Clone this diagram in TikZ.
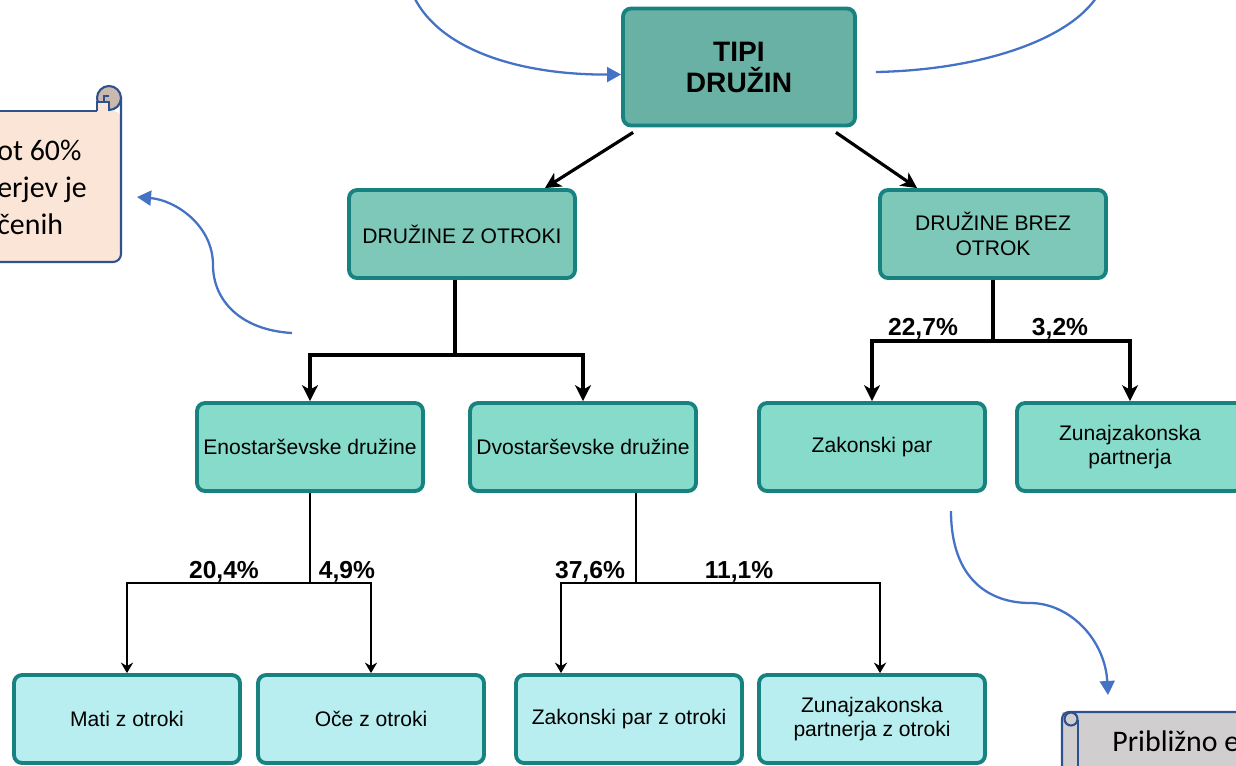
\documentclass[tikz,border=0pt]{standalone}
\usepackage{fontspec}
\setmainfont{Liberation Sans}
\newfontfamily\notefont{Carlito}
\usetikzlibrary{arrows.meta}

\definecolor{tealborder}{HTML}{17827F}
\definecolor{lvltop}{HTML}{6AB1A5}
\definecolor{lvltwo}{HTML}{7DC8B9}
\definecolor{lvlthree}{HTML}{87DBCB}
\definecolor{lvlfour}{HTML}{B9EEF0}
\definecolor{curveblue}{HTML}{4472C4}
\definecolor{scrollblue}{HTML}{2F528F}
\definecolor{peach}{HTML}{FBE5D6}
\definecolor{curl}{HTML}{C9B9AE}
\definecolor{greyfill}{HTML}{D0CECE}

\begin{document}
\begin{tikzpicture}[x=0.02cm,y=-0.02cm,
    box/.style={draw=tealborder,line width=2.2pt,rounded corners=0.16cm,
      minimum width=4.52cm,minimum height=1.76cm,align=center,inner sep=2pt,
      font=\fontsize{12}{13.9}\selectfont},
    pct/.style={anchor=base,inner sep=0pt,font=\bfseries\fontsize{14}{16}\selectfont},
    note/.style={anchor=base west,inner sep=0pt,font=\notefont\fontsize{17}{21}\selectfont},
    thickline/.style={line width=1.8pt},
    thickarrow/.style={line width=1.8pt,-{Stealth[length=9pt,width=9pt,inset=2.5pt]}},
    thinline/.style={line width=0.8pt},
    thinarrow/.style={line width=0.8pt,-{Stealth[length=6pt,width=7pt,inset=2pt]}},
    blueline/.style={curveblue,line width=1.3pt},
    bluearrow/.style={curveblue,line width=1.3pt,-{Triangle[length=8pt,width=8.5pt]}},
    scrollline/.style={draw=scrollblue,line width=1.2pt}]
\clip (0,0) rectangle (1236,765);

% scrolls
\fill[peach,rounded corners=0.16cm] (-10,111) rectangle (121,262);
\draw[scrollline] (-10,111) -- (97,111);
\draw[scrollline,rounded corners=0.16cm] (121,97) -- (121,262) -- (-10,262);
\filldraw[scrollline,fill=curl] (109,98) circle (0.24cm);
\filldraw[scrollline,fill=peach] (97,111) -- (97,102) -- (109,102) -- (109,111);
\draw[scrollline] (104,102) -- (104,96) -- (109,96);
\node[note] (n1) at (-3,160) {ot 60\%};
\node[note] (n2) at (-3,197) {erjev je};
\node[note] (n3) at (-3,234) {čenih};

\fill[greyfill] (1062,712) rectangle (1250,780);
\draw[scrollline,rounded corners=0.14cm] (1062,780) -- (1062,712) -- (1250,712);
\draw[scrollline] (1078,720) -- (1078,780);
\draw[scrollline] (1071,719) circle (0.13cm);
\node[note] (n4) at (1112,751) {Približno e};

% boxes
\node[box,fill=lvltop,minimum width=4.64cm,minimum height=2.34cm,
  font=\bfseries\fontsize{16}{17.6}\selectfont] (tipi) at (739,67) {TIPI\\DRUŽIN};
\node[box,fill=lvltwo] (otroki) at (462,234) {DRUŽINE Z OTROKI};
\node[box,fill=lvltwo] (brez) at (993,234) {DRUŽINE BREZ\\OTROK};
\node[box,fill=lvlthree] (eno) at (310,447) {Enostarševske družine};
\node[box,fill=lvlthree] (dvo) at (583,447) {Dvostarševske družine};
\node[box,fill=lvlthree] (zak) at (872,447) {Zakonski par};
\node[box,fill=lvlthree] (zun) at (1130,447) {Zunajzakonska\\partnerja};
\node[box,fill=lvlfour] (mati) at (127,719) {Mati z otroki};
\node[box,fill=lvlfour] (oce) at (371,719) {Oče z otroki};
\node[box,fill=lvlfour] (zpo) at (629,719) {Zakonski par z otroki};
\node[box,fill=lvlfour] (zzo) at (872,719) {Zunajzakonska\\partnerja z otroki};

\coordinate (j1) at (455,355);
\coordinate (j2) at (993,341);
\coordinate (j3) at (310,583);
\coordinate (j4) at (636,583);

% connectors
\draw[thickarrow] ([xshift=0.24cm,yshift=-0.1cm]tipi.south west) -- ([xshift=-0.64cm]otroki.north east);
\draw[thickarrow] ([xshift=-0.42cm,yshift=-0.1cm]tipi.south east) -- ([xshift=0.78cm]brez.north west);
\draw[thickline] (otroki.south -| j1) -- (j1);
\draw[thickarrow] (j1) -| (eno.north);
\draw[thickarrow] (j1) -| (dvo.north);
\draw[thickline] (brez.south) -- (j2);
\draw[thickarrow] (j2) -| (zak.north);
\draw[thickarrow] (j2) -| (zun.north);
\draw[thinline] (eno.south) -- (j3);
\draw[thinarrow] (j3) -| (mati.north);
\draw[thinarrow] (j3) -| (oce.north);
\draw[thinline] (dvo.south -| j4) -- (j4);
\draw[thinarrow] (j4) -| ([xshift=-1.36cm]zpo.north);
\draw[thinarrow] (j4) -| ([xshift=0.16cm]zzo.north);

\node[pct] (p1) at (923,335) {22,7\%};
\node[pct] (p2) at (1060,335) {3,2\%};
\node[pct] (p3) at (224,578) {20,4\%};
\node[pct] (p4) at (347,578) {4,9\%};
\node[pct] (p5) at (590,578) {37,6\%};
\node[pct] (p6) at (739,578) {11,1\%};

% blue curves
\coordinate (c1) at (414,-3);
\coordinate (c2) at (1098,-5);
\coordinate (c3) at (292,333);
\coordinate (c4) at (951,511);
\coordinate (t1) at (137,197);
\coordinate (t2) at (1108,695);
\draw[bluearrow] (c1) .. controls (440,50) and (520,75) .. ([yshift=-0.15cm]tipi.west);
\draw[blueline] ([xshift=0.38cm,yshift=-0.1cm]tipi.east) .. controls (980,70) and (1070,40) .. (c2);
\draw[bluearrow] (c3) .. controls (240,330) and (213,300) .. (213,265)
  .. controls (213,225) and (175,200) .. (t1);
\draw[bluearrow] (c4) .. controls (951,580) and (990,603) .. (1030,603)
  .. controls (1070,603) and (1105,640) .. (t2);
\end{tikzpicture}
\end{document}
